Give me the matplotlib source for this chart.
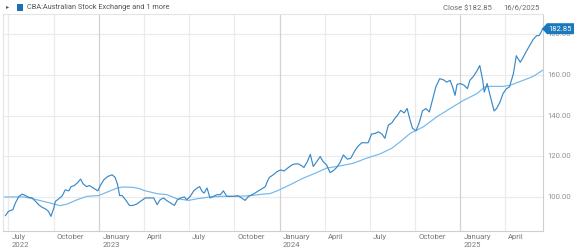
import pandas as pd
import matplotlib.pyplot as plt
import matplotlib.transforms as mtransforms
from matplotlib.patches import Polygon

plt.rcParams['font.family'] = ['Roboto', 'DejaVu Sans']

# CBA weekly close
cba_dates = [
    "2022-06-25", "2022-07-01", "2022-07-10", "2022-07-15", "2022-07-22", "2022-07-29",
    "2022-08-04", "2022-08-11", "2022-08-18", "2022-08-25", "2022-08-31", "2022-09-07",
    "2022-09-14", "2022-09-20", "2022-09-25", "2022-10-01", "2022-10-04", "2022-10-11",
    "2022-10-18", "2022-10-24", "2022-10-31", "2022-11-05", "2022-11-11", "2022-11-17",
    "2022-11-24", "2022-11-29", "2022-12-06", "2022-12-12", "2022-12-20", "2022-12-29",
    "2023-01-03", "2023-01-10", "2023-01-18", "2023-01-27", "2023-02-02", "2023-02-07",
    "2023-02-11", "2023-02-16", "2023-02-23", "2023-03-03", "2023-03-10", "2023-03-18",
    "2023-03-25", "2023-04-04", "2023-04-13", "2023-04-21", "2023-04-28", "2023-05-04",
    "2023-05-11", "2023-05-18", "2023-05-25", "2023-06-02", "2023-06-08", "2023-06-15",
    "2023-06-22", "2023-06-27", "2023-07-04", "2023-07-11", "2023-07-18", "2023-07-23",
    "2023-07-28", "2023-08-01", "2023-08-07", "2023-08-13", "2023-08-20", "2023-08-27",
    "2023-09-03", "2023-09-09", "2023-09-16", "2023-09-23", "2023-09-30", "2023-10-08",
    "2023-10-16", "2023-10-23", "2023-10-30", "2023-11-06", "2023-11-12", "2023-11-19",
    "2023-11-26", "2023-12-03", "2023-12-07", "2023-12-11", "2023-12-19", "2023-12-27",
    "2024-01-03", "2024-01-10", "2024-01-17", "2024-01-26", "2024-02-01", "2024-02-08",
    "2024-02-15", "2024-02-19", "2024-02-26", "2024-03-03", "2024-03-09", "2024-03-16",
    "2024-03-23", "2024-03-29", "2024-04-05", "2024-04-12", "2024-04-19", "2024-04-26",
    "2024-05-02", "2024-05-09", "2024-05-17", "2024-05-24", "2024-06-02", "2024-06-08",
    "2024-06-15", "2024-06-22", "2024-06-28", "2024-07-05", "2024-07-12", "2024-07-19",
    "2024-07-26", "2024-08-01", "2024-08-08", "2024-08-15", "2024-08-21", "2024-08-26",
    "2024-09-02", "2024-09-09", "2024-09-15", "2024-09-21", "2024-09-26", "2024-10-03",
    "2024-10-10", "2024-10-16", "2024-10-23", "2024-10-30", "2024-11-06", "2024-11-12",
    "2024-11-20", "2024-11-27", "2024-12-04", "2024-12-11", "2024-12-16", "2024-12-21",
    "2024-12-25", "2025-01-01", "2025-01-08", "2025-01-15", "2025-01-20", "2025-01-27",
    "2025-02-03", "2025-02-09", "2025-02-15", "2025-02-18", "2025-02-24", "2025-03-01",
    "2025-03-10", "2025-03-15", "2025-03-22", "2025-03-28", "2025-04-04", "2025-04-10",
    "2025-04-18", "2025-04-24", "2025-05-02", "2025-05-08", "2025-05-15", "2025-05-21",
    "2025-05-28", "2025-06-04", "2025-06-09", "2025-06-14", "2025-06-16",
]
cba_close = [
    90.7, 92.8, 93.6, 96.9, 100.1, 101.3,
    100.6, 99.7, 99.4, 97.7, 96.1, 94.8,
    94.0, 92.8, 90.3, 94.5, 97.7, 99.0,
    100.5, 103.4, 102.9, 105.0, 105.5, 106.7,
    108.7, 106.4, 105.0, 105.5, 104.3, 102.9,
    105.5, 108.3, 110.0, 110.8, 109.5, 105.9,
    100.6, 100.6, 98.5, 95.7, 95.7, 96.4,
    97.7, 99.4, 99.4, 99.4, 96.1, 98.5,
    99.4, 98.0, 96.9, 95.7, 98.5, 99.4,
    99.9, 98.5, 100.2, 102.9, 104.3, 105.0,
    102.6, 101.8, 104.3, 99.4, 100.2, 101.0,
    101.0, 102.9, 100.2, 100.2, 100.2, 100.5,
    99.4, 98.2, 100.2, 101.0, 101.8, 102.9,
    103.9, 105.0, 107.5, 109.5, 110.8, 112.4,
    113.2, 112.7, 114.1, 115.7, 116.2, 116.2,
    115.2, 114.4, 117.3, 120.9, 114.9, 117.3,
    119.8, 117.3, 115.7, 111.9, 112.9, 114.6,
    116.8, 120.6, 118.5, 119.0, 123.0, 125.0,
    126.6, 126.6, 126.6, 130.9, 131.2, 132.0,
    130.9, 128.8, 135.3, 136.4, 138.6, 140.0,
    142.6, 141.3, 143.5, 137.7, 133.7, 132.5,
    136.9, 142.3, 143.5, 141.8, 148.4, 154.1,
    158.2, 157.7, 156.5, 157.4, 154.1, 150.0,
    155.4, 155.8, 155.0, 153.3, 157.4, 159.3,
    161.9, 164.7, 157.4, 151.6, 155.8, 150.8,
    142.3, 143.5, 146.7, 150.8, 153.3, 154.1,
    160.6, 169.5, 166.3, 168.8, 172.0, 174.5,
    177.5, 179.4, 179.4, 181.5, 182.85,
]

# smooth comparison line
avg_dates = [
    "2022-06-20", "2022-07-12", "2022-08-01", "2022-08-21", "2022-09-10", "2022-10-01",
    "2022-10-14", "2022-10-28", "2022-11-17", "2022-12-07", "2022-12-31", "2023-01-17",
    "2023-02-06", "2023-02-19", "2023-03-11", "2023-03-25", "2023-04-01", "2023-04-28",
    "2023-05-18", "2023-06-07", "2023-07-01", "2023-07-18", "2023-08-13", "2023-09-09",
    "2023-10-06", "2023-11-02", "2023-11-29", "2023-12-13", "2023-12-29", "2024-01-22",
    "2024-02-18", "2024-03-13", "2024-04-05", "2024-05-02", "2024-05-29", "2024-06-25",
    "2024-07-22", "2024-08-15", "2024-09-01", "2024-09-21", "2024-10-18", "2024-11-14",
    "2024-12-11", "2025-01-07", "2025-02-03", "2025-02-19", "2025-03-01", "2025-03-28",
    "2025-04-11", "2025-05-08", "2025-05-28", "2025-06-16",
]
avg_close = [
    99.9, 99.9, 99.9, 98.9, 97.7, 96.4,
    95.6, 96.4, 98.5, 100.2, 100.6, 102.3,
    104.3, 104.8, 104.6, 103.9, 103.1, 101.5,
    101.0, 99.0, 98.2, 99.0, 99.9, 100.2,
    100.2, 100.5, 101.3, 101.6, 103.1, 105.9,
    109.2, 111.6, 114.1, 115.2, 116.5, 119.0,
    121.1, 123.9, 127.1, 131.2, 134.5, 139.4,
    143.5, 147.5, 150.8, 154.1, 154.4, 154.4,
    154.9, 157.4, 159.3, 162.3,
]

tick_dates = ["2022-07-01", "2022-10-01", "2023-01-01", "2023-04-01", "2023-07-01",
              "2023-10-01", "2024-01-01", "2024-04-01", "2024-07-01", "2024-10-01",
              "2025-01-01", "2025-04-01"]
tick_labels = ["July\n2022", "October", "January\n2023", "April", "July", "October",
               "January\n2024", "April", "July", "October", "January\n2025", "April"]
y_ticks = [100, 120, 140, 160, 180]
last_close = 182.85

fig = plt.figure(figsize=(5.85, 2.52), dpi=100)
ax = fig.add_axes([3 / 585, 1 - 231 / 252, 540 / 585, 217 / 252])

ax.set_xlim(pd.Timestamp("2022-06-20"), pd.Timestamp("2025-06-17"))
ax.set_ylim(83.1, 190.1)

# grid
for y in y_ticks:
    ax.axhline(y, color="#ebebeb", lw=0.8, zorder=0)
for d in tick_dates:
    col = "#d2d2d2" if d.endswith("01-01") else "#ebebeb"
    ax.axvline(pd.Timestamp(d), color=col, lw=0.9, zorder=0)

ax.plot(pd.to_datetime(avg_dates), avg_close, color="#72b8ee", lw=0.85, zorder=2)
ax.plot(pd.to_datetime(cba_dates), cba_close, color="#3a89c6", lw=0.85, zorder=3)

ax.set_xticks([])
ax.set_yticks([])
for side in ["left", "top"]:
    ax.spines[side].set_color("#e4e4e4")
    ax.spines[side].set_linewidth(0.8)
for side in ["right", "bottom"]:
    ax.spines[side].set_color("#cfcfcf")
    ax.spines[side].set_linewidth(0.8)

# x labels, left aligned next to the gridline
xoff = mtransforms.offset_copy(ax.get_xaxis_transform(), fig=fig, x=3, y=-3, units="dots")
for d, lab in zip(tick_dates, tick_labels):
    ax.text(pd.Timestamp(d), 0, lab, transform=xoff, ha="left", va="top",
            fontsize=5.6, color="#7a7a7a", linespacing=1.45)

# y labels on the right
yoff = mtransforms.offset_copy(ax.get_yaxis_transform(), fig=fig, x=4, y=0, units="dots")
for y in y_ticks:
    ax.text(1, y, f"{y:.2f}", transform=yoff, ha="left", va="center",
            fontsize=5.6, color="#939393")

# last price tag
tag_y = ax.transData.transform((0, last_close))[1]
x0 = 542
poly = Polygon([(x0, tag_y), (x0 + 5, tag_y + 5.5), (x0 + 32, tag_y + 5.5),
                (x0 + 32, tag_y - 5.5), (x0 + 5, tag_y - 5.5)],
               closed=True, transform=None, facecolor="#1a78bf", edgecolor="none",
               zorder=10)
fig.patches.append(poly)
fig.text((x0 + 6) / 585, tag_y / 252, f"{last_close:.2f}", ha="left", va="center",
         fontsize=5.5, color="white", zorder=11)

# header
fig.text(8 / 585, 1 - 7 / 252, "\u25b8", ha="center", va="center", fontsize=4.5,
         color="#555555", family=["DejaVu Sans"])
fig.patches.append(plt.Rectangle((17 / 585, 1 - 10.5 / 252), 6 / 585, 6 / 252,
                                 transform=fig.transFigure, facecolor="#1f6fb8",
                                 edgecolor="none"))
fig.text(27 / 585, 1 - 7.5 / 252, "CBA:Australian Stock Exchange and 1 more",
         ha="left", va="center", fontsize=5.3, color="#555555")
fig.text(492 / 585, 1 - 8 / 252, "Close $182.85", ha="right", va="center",
         fontsize=5.5, color="#6a6a6a")
fig.text(540 / 585, 1 - 8 / 252, "16/6/2025", ha="right", va="center",
         fontsize=5.5, color="#6a6a6a")

fig.savefig("out.png", dpi=100)
